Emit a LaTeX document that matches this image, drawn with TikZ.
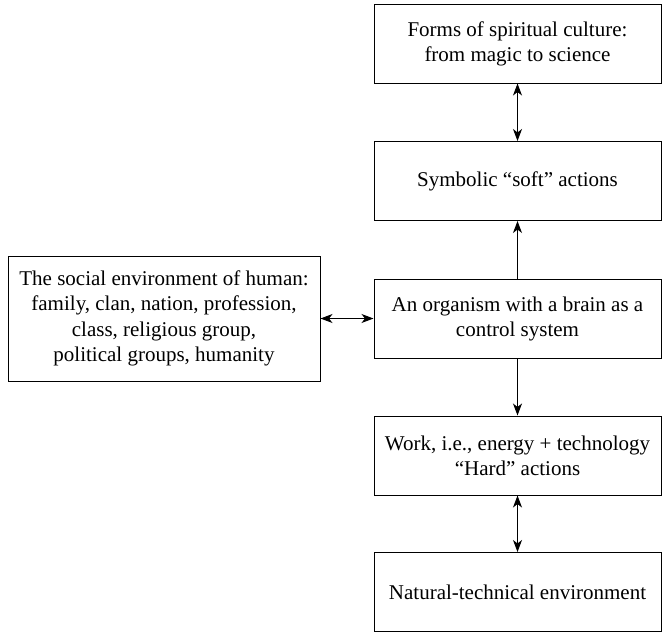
\documentclass[tikz,border=0pt]{standalone}
\usepackage{fontspec}
\setmainfont{Liberation Serif}
\usetikzlibrary{arrows.meta}
\begin{document}
\begin{tikzpicture}[x=1pt,y=-1pt,
  box/.style={draw, line width=1pt, minimum width=287pt, minimum height=79pt, align=center, inner sep=2pt, font=\fontsize{21}{25}\selectfont},
  lbox/.style={draw, line width=1pt, minimum width=312pt, minimum height=125pt, align=center, inner sep=2pt, font=\fontsize{21}{25.3}\selectfont},
  tip/.style={Stealth[length=12pt,width=9pt,inset=3.5pt]},
  conn/.style={line width=1pt, -{Stealth[length=12pt,width=9pt,inset=3.5pt]}},
  conn2/.style={line width=1pt, {Stealth[length=12pt,width=9pt,inset=3.5pt]}-{Stealth[length=12pt,width=9pt,inset=3.5pt]}}]
\useasboundingbox (0,0) rectangle (663,632);
\node[box] (b1) at (517.5,43.5) {Forms of spiritual culture:\\from magic to science};
\node[box] (b2) at (517.5,181) {Symbolic “soft” actions};
\node[box] (b3) at (517.5,318.5) {An organism with a brain as a\\control system};
\node[box] (b4) at (517.5,455.5) {Work, i.e., energy + technology\\“Hard” actions};
\node[box] (b5) at (517.5,592) {Natural-technical environment};
\node[lbox] (l) at (164,318.5) {The social environment of human:\\family, clan, nation, profession,\\class, religious group,\\political groups, humanity};
\draw[conn2] (b1) -- (b2);
\draw[conn] (b3) -- (b2);
\draw[conn] (b3) -- (b4);
\draw[conn2] (b4) -- (b5);
\draw[conn2] (l) -- (b3);
\end{tikzpicture}
\end{document}
